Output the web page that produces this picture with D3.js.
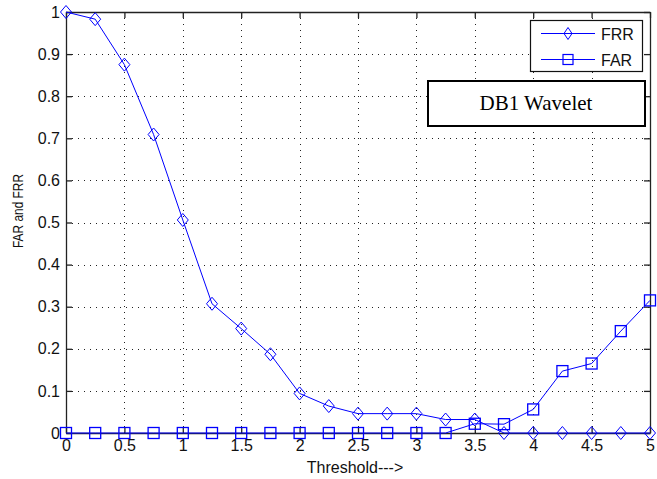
<!DOCTYPE html>
<html>
<head>
<meta charset="utf-8">
<script src="https://cdn.jsdelivr.net/npm/d3@7"></script>
<style>
  html, body { margin: 0; padding: 0; background: #fff; }
  svg { display: block; }
</style>
</head>
<body>
<svg id="chart" width="657" height="479"></svg>
<script>
// Threshold sweep and the resulting error rates
const thresholds = [0, 0.25, 0.5, 0.75, 1, 1.25, 1.5, 1.75, 2, 2.25, 2.5, 2.75, 3,
                    3.25, 3.5, 3.75, 4, 4.25, 4.5, 4.75, 5];
const frr = [1, 0.983, 0.875, 0.709, 0.506, 0.307, 0.248, 0.187, 0.094, 0.064, 0.046,
             0.046, 0.046, 0.032, 0.032, 0, 0, 0, 0, 0, 0];
const far = [0, 0, 0, 0, 0, 0, 0, 0, 0, 0, 0, 0, 0,
             0, 0.022, 0.021, 0.056, 0.147, 0.165, 0.242, 0.315];
const xTicks = [0, 0.5, 1, 1.5, 2, 2.5, 3, 3.5, 4, 4.5, 5];
const yTicks = [0, 0.1, 0.2, 0.3, 0.4, 0.5, 0.6, 0.7, 0.8, 0.9, 1];
const xTickLabels = ["0", "0.5", "1", "1.5", "2", "2.5", "3", "3.5", "4", "4.5", "5"];
const yTickLabels = ["0", "0.1", "0.2", "0.3", "0.4", "0.5", "0.6", "0.7", "0.8", "0.9", "1"];

const SANS = "'Liberation Sans', Arial, Helvetica, sans-serif";
const SERIF = "'Liberation Serif', 'Times New Roman', serif";

const svg = d3.select("#chart");
const L = 66, R = 650, T = 12, B = 433;
const x = d3.scaleLinear().domain([0, 5]).range([L, R]);
const y = d3.scaleLinear().domain([0, 1]).range([B, T]);
const blue = "#0000ff";

// dotted grid
const grid = svg.append("g").attr("stroke", "#222").attr("stroke-width", 1)
  .attr("stroke-dasharray", "1,5").attr("shape-rendering", "crispEdges");
grid.selectAll("line.gx").data(xTicks.slice(1, -1)).join("line")
  .attr("x1", d => Math.round(x(d)) + 0.5).attr("x2", d => Math.round(x(d)) + 0.5)
  .attr("y1", B).attr("y2", T);
grid.selectAll("line.gy").data(yTicks.slice(1, -1)).join("line")
  .attr("y1", d => Math.round(y(d)) + 0.5).attr("y2", d => Math.round(y(d)) + 0.5)
  .attr("x1", L).attr("x2", R);

// axes with inward ticks, mirrored on top and right
const tickLen = 6;
const axFont = g => g.selectAll("text").style("font-size", "16px").style("font-family", SANS)
  .attr("fill", "#111");
const xAxis = svg.append("g").attr("transform", `translate(0,${B})`)
  .call(d3.axisBottom(x).tickValues(xTicks).tickFormat((d, i) => xTickLabels[i])
        .tickSizeInner(-tickLen).tickSizeOuter(0).tickPadding(7));
xAxis.call(axFont);
const yAxis = svg.append("g").attr("transform", `translate(${L},0)`)
  .call(d3.axisLeft(y).tickValues(yTicks).tickFormat((d, i) => yTickLabels[i])
        .tickSizeInner(-tickLen).tickSizeOuter(0).tickPadding(6));
yAxis.call(axFont);
svg.append("g").attr("transform", `translate(0,${T})`)
  .call(d3.axisTop(x).tickValues(xTicks).tickFormat("").tickSizeInner(-tickLen).tickSizeOuter(0));
svg.append("g").attr("transform", `translate(${R},0)`)
  .call(d3.axisRight(y).tickValues(yTicks).tickFormat("").tickSizeInner(-tickLen).tickSizeOuter(0));
svg.selectAll(".domain, .tick line").attr("stroke", "#222").attr("stroke-width", 1.3);

// axis titles
svg.append("text").attr("x", 355).attr("y", 473).attr("text-anchor", "middle")
  .style("font-family", SANS).style("font-size", "16px").attr("fill", "#111").text("Threshold--->");
svg.append("text").attr("transform", "translate(23,211) rotate(-90)")
  .attr("text-anchor", "middle").style("font-family", SANS).style("font-size", "14px")
  .attr("textLength", 74).attr("lengthAdjust", "spacingAndGlyphs")
  .attr("fill", "#111").text("FAR and FRR");

// series
const line = d3.line().x(d => x(d[0])).y(d => y(d[1]));
const frrPts = thresholds.map((t, i) => [t, frr[i]]);
const farPts = thresholds.map((t, i) => [t, far[i]]);
const diamond = (cx, cy) => `M${cx},${cy - 6.5}L${cx + 5.5},${cy}L${cx},${cy + 6.5}L${cx - 5.5},${cy}Z`;

const plot = svg.append("g");
plot.append("path").attr("d", line(frrPts)).attr("fill", "none").attr("stroke", blue).attr("stroke-width", 1);
plot.append("path").attr("d", line(farPts)).attr("fill", "none").attr("stroke", blue).attr("stroke-width", 1);
plot.selectAll("path.dm").data(frrPts).join("path").attr("class", "dm")
  .attr("d", d => diamond(x(d[0]), y(d[1])))
  .attr("fill", "none").attr("stroke", blue).attr("stroke-width", 1);
plot.selectAll("rect.sq").data(farPts).join("rect").attr("class", "sq")
  .attr("x", d => x(d[0]) - 5.5).attr("y", d => y(d[1]) - 5.5)
  .attr("width", 11).attr("height", 11)
  .attr("fill", "none").attr("stroke", blue).attr("stroke-width", 1.3);

// legend
const lg = svg.append("g");
lg.append("rect").attr("x", 530.5).attr("y", 20.5).attr("width", 112).attr("height", 51)
  .attr("fill", "#fff").attr("stroke", "#111").attr("stroke-width", 1.2);
const legendItems = [["FRR", 33.5, "d"], ["FAR", 59.5, "s"]];
legendItems.forEach(([name, ly, kind]) => {
  lg.append("line").attr("x1", 541).attr("x2", 595).attr("y1", ly).attr("y2", ly)
    .attr("stroke", blue).attr("stroke-width", 1);
  if (kind === "d") {
    lg.append("path").attr("d", `M568,${ly - 6}L572,${ly}L568,${ly + 6}L564,${ly}Z`)
      .attr("fill", "none").attr("stroke", blue);
  } else {
    lg.append("rect").attr("x", 563).attr("y", ly - 5).attr("width", 10).attr("height", 10)
      .attr("fill", "none").attr("stroke", blue).attr("stroke-width", 1.2);
  }
  lg.append("text").attr("x", 601).attr("y", ly + 6).style("font-family", SANS)
    .style("font-size", "16px").attr("fill", "#111").text(name);
});

// annotation box
svg.append("rect").attr("x", 428).attr("y", 81).attr("width", 217).attr("height", 45)
  .attr("fill", "#fff").attr("stroke", "#000").attr("stroke-width", 2);
svg.append("text").attr("x", 536).attr("y", 110).attr("text-anchor", "middle")
  .style("font-family", SERIF).style("font-size", "21px").attr("fill", "#000").text("DB1 Wavelet");
</script>
</body>
</html>
